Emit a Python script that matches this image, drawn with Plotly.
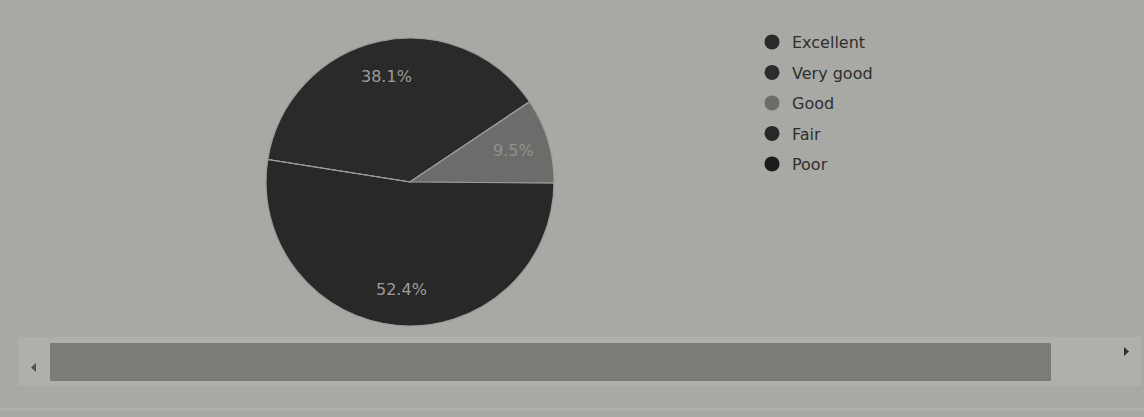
import math
import plotly.graph_objects as go

# Data
labels = ["Excellent", "Very good", "Good", "Fair", "Poor"]
values = [8, 0, 2, 11, 0]
slice_colors = ["#2a2a2b", "#2c2c2c", "#6c6d6b", "#282828", "#1c1c1c"]
label_colors = ["#9c9d9a", "#9c9d9a", "#8f908d", "#9c9d9a", "#9c9d9a"]

BG = "#a8a9a5"
W, H = 1144, 417
START_ANGLE = 279  # degrees clockwise from 12 o'clock
PIE_X0, PIE_X1, PIE_Y0, PIE_Y1 = 266, 554, 38, 326  # pixel box of the pie

fig = go.Figure()

fig.add_trace(go.Pie(
    labels=labels,
    values=values,
    sort=False,
    direction="clockwise",
    rotation=START_ANGLE,
    marker=dict(colors=slice_colors, line=dict(color="#9c9d99", width=1.2)),
    textinfo="none",
    showlegend=False,
    hoverinfo="label+percent",
    domain=dict(x=[PIE_X0 / W, PIE_X1 / W], y=[1 - PIE_Y1 / H, 1 - PIE_Y0 / H]),
))

# percentage labels placed at 3/4 radius on each slice's mid-angle
total = sum(values)
cx, cy = (PIE_X0 + PIE_X1) / 2, (PIE_Y0 + PIE_Y1) / 2
r = min(PIE_X1 - PIE_X0, PIE_Y1 - PIE_Y0) / 2
annotations = []
cum = 0
for lab, v, tc in zip(labels, values, label_colors):
    if v > 0:
        mid = math.radians(START_ANGLE + 360 * (cum + v / 2) / total)
        px = cx + 0.75 * r * math.sin(mid)
        py = cy - 0.75 * r * math.cos(mid)
        annotations.append(dict(
            x=px / W, y=1 - py / H, xref="paper", yref="paper",
            xanchor="center", yanchor="middle",
            text=f"{100 * v / total:.1f}%", showarrow=False,
            font=dict(family="DejaVu Sans, sans-serif", size=16, color=tc),
        ))
    cum += v

# legend entries (circle markers)
for lab, col in zip(labels, slice_colors):
    fig.add_trace(go.Scatter(
        x=[None], y=[None], mode="markers", name=lab,
        legendgroup=lab,
        marker=dict(symbol="circle", size=15, color=col),
        showlegend=True,
    ))

fig.update_xaxes(visible=False)
fig.update_yaxes(visible=False)

shapes = [
    # scrollbar track
    dict(type="rect", xref="paper", yref="paper",
         x0=18 / W, x1=1141 / W, y0=1 - 386 / H, y1=1 - 337 / H,
         fillcolor="#afb0ac", line=dict(width=0), layer="below"),
    # scrollbar thumb
    dict(type="rect", xref="paper", yref="paper",
         x0=50 / W, x1=1051 / W, y0=1 - 381 / H, y1=1 - 343 / H,
         fillcolor="#7b7c78", line=dict(width=0), layer="below"),
    # left arrow
    dict(type="path", xref="paper", yref="paper",
         path=f"M {36/W},{1-363/H} L {31/W},{1-367.5/H} L {36/W},{1-372/H} Z",
         fillcolor="#505050", line=dict(width=0)),
    # right arrow
    dict(type="path", xref="paper", yref="paper",
         path=f"M {1124/W},{1-347/H} L {1129/W},{1-351.5/H} L {1124/W},{1-356/H} Z",
         fillcolor="#303030", line=dict(width=0)),
    # bottom faint line
    dict(type="line", xref="paper", yref="paper",
         x0=0, x1=1, y0=1 - 409 / H, y1=1 - 409 / H,
         line=dict(color="#b8b9b5", width=1)),
]

fig.update_layout(
    width=W, height=H,
    margin=dict(l=0, r=0, t=0, b=0),
    paper_bgcolor=BG,
    plot_bgcolor=BG,
    shapes=shapes,
    annotations=annotations,
    legend=dict(
        x=752 / W, y=1 - 25 / H, xanchor="left", yanchor="top",
        font=dict(family="DejaVu Sans, sans-serif", size=16, color="#2e2e2e"),
        bgcolor="rgba(0,0,0,0)",
        traceorder="grouped",
        tracegroupgap=6.7,
        itemwidth=30,
    ),
)

fig.write_html(
    "out.html",
    config={"displayModeBar": False},
    post_script="document.body.style.margin='0';document.body.style.overflow='hidden';",
)
